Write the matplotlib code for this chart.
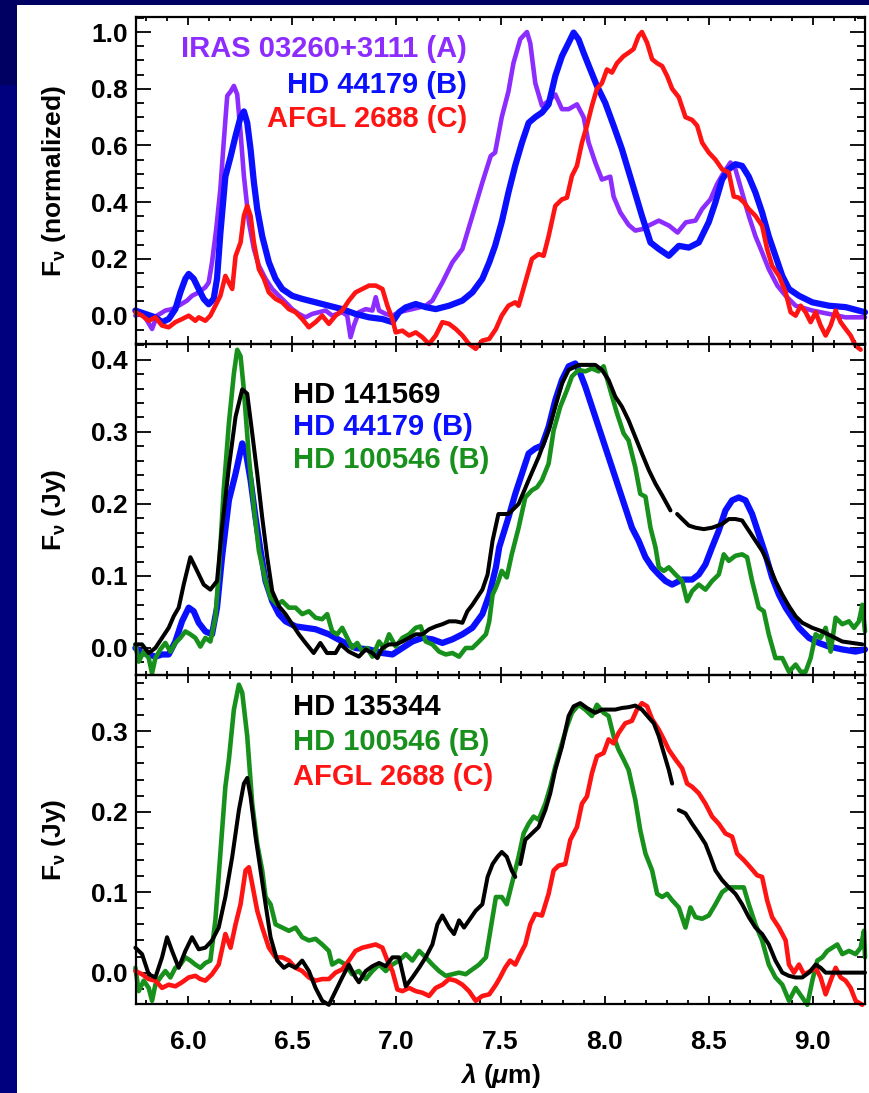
import numpy as np
import matplotlib
matplotlib.use("Agg")
import matplotlib.pyplot as plt
from matplotlib.patches import Rectangle
from matplotlib.ticker import MultipleLocator, FormatStrFormatter

plt.rcParams['font.family'] = ['Liberation Sans', 'DejaVu Sans']
plt.rcParams['font.weight'] = 'bold'
plt.rcParams['axes.labelweight'] = 'bold'
plt.rcParams['mathtext.fontset'] = 'custom'
plt.rcParams['mathtext.rm'] = 'Liberation Sans:bold'
plt.rcParams['mathtext.it'] = 'Liberation Sans:italic:bold'
plt.rcParams['mathtext.bf'] = 'Liberation Sans:bold'

# ---- spectra (wavelength in micron, flux) ----
# panel 1: normalized
iras_a = [(5.747, 0.0), (5.779, 0.012), (5.827, -0.047), (5.851, 0.0), (5.891, 0.018),
          (5.923, 0.023), (5.955, 0.035), (5.995, 0.053), (6.019, 0.07), (6.051, 0.082),
          (6.083, 0.10), (6.099, 0.117), (6.115, 0.188), (6.135, 0.305), (6.155, 0.446),
          (6.171, 0.61), (6.188, 0.775), (6.204, 0.79), (6.22, 0.81), (6.236, 0.78),
          (6.252, 0.645), (6.268, 0.493), (6.292, 0.329), (6.316, 0.235), (6.34, 0.176),
          (6.372, 0.13), (6.404, 0.094), (6.436, 0.07), (6.468, 0.047), (6.5, 0.023),
          (6.532, 0.006), (6.564, -0.006), (6.596, 0.006), (6.628, 0.012), (6.66, 0.018),
          (6.692, 0.0), (6.74, 0.012), (6.764, 0.0), (6.78, -0.076), (6.796, -0.035),
          (6.82, 0.012), (6.853, 0.023), (6.885, 0.018), (6.901, 0.065), (6.917, 0.018),
          (6.949, 0.006), (6.981, 0.0), (7.013, 0.012), (7.045, 0.018), (7.077, 0.023),
          (7.109, 0.029), (7.141, 0.035), (7.173, 0.053), (7.221, 0.117), (7.269, 0.188),
          (7.317, 0.235), (7.365, 0.352), (7.413, 0.47), (7.453, 0.563), (7.474, 0.575),
          (7.506, 0.70), (7.538, 0.79), (7.562, 0.89), (7.595, 0.975), (7.627, 1.0),
          (7.643, 0.96), (7.667, 0.82), (7.699, 0.74), (7.731, 0.757), (7.763, 0.78),
          (7.795, 0.728), (7.827, 0.728), (7.867, 0.745), (7.899, 0.70), (7.923, 0.61),
          (7.955, 0.54), (7.987, 0.48), (8.027, 0.49), (8.043, 0.42), (8.075, 0.364),
          (8.115, 0.32), (8.147, 0.30), (8.18, 0.305), (8.21, 0.317), (8.26, 0.335),
          (8.31, 0.317), (8.35, 0.293), (8.39, 0.329), (8.436, 0.335), (8.468, 0.376),
          (8.508, 0.41), (8.54, 0.464), (8.572, 0.505), (8.604, 0.54), (8.628, 0.516),
          (8.66, 0.434), (8.692, 0.352), (8.724, 0.28), (8.756, 0.223), (8.788, 0.164),
          (8.829, 0.106), (8.869, 0.07), (8.917, 0.035), (8.997, 0.018), (9.077, 0.006),
          (9.157, -0.006), (9.25, -0.006)]

hd44179_norm = [(5.747, 0.018), (5.795, 0.006), (5.843, -0.006), (5.875, -0.023), (5.907, -0.012),
                (5.939, 0.023), (5.963, 0.082), (5.987, 0.13), (6.003, 0.147), (6.027, 0.13),
                (6.051, 0.094), (6.075, 0.059), (6.099, 0.04), (6.123, 0.059), (6.139, 0.13),
                (6.155, 0.29), (6.179, 0.49), (6.204, 0.56), (6.228, 0.634), (6.252, 0.70),
                (6.268, 0.72), (6.284, 0.68), (6.30, 0.587), (6.316, 0.47), (6.332, 0.376),
                (6.356, 0.28), (6.388, 0.188), (6.42, 0.13), (6.452, 0.094), (6.5, 0.07),
                (6.548, 0.059), (6.612, 0.047), (6.676, 0.035), (6.74, 0.023), (6.804, 0.006),
                (6.869, -0.006), (6.933, -0.012), (6.981, -0.023), (7.013, 0.012), (7.045, 0.029),
                (7.093, 0.041), (7.141, 0.03), (7.189, 0.023), (7.253, 0.035), (7.317, 0.053),
                (7.365, 0.082), (7.413, 0.13), (7.446, 0.188), (7.474, 0.246), (7.506, 0.33),
                (7.538, 0.434), (7.571, 0.53), (7.603, 0.61), (7.635, 0.68), (7.667, 0.70),
                (7.699, 0.716), (7.731, 0.745), (7.763, 0.845), (7.795, 0.915), (7.827, 0.962),
                (7.851, 0.998), (7.875, 0.974), (7.899, 0.927), (7.931, 0.868), (7.963, 0.81),
                (8.003, 0.75), (8.043, 0.67), (8.083, 0.587), (8.131, 0.47), (8.179, 0.352),
                (8.22, 0.258), (8.26, 0.235), (8.308, 0.211), (8.356, 0.246), (8.404, 0.24),
                (8.452, 0.258), (8.5, 0.33), (8.532, 0.40), (8.564, 0.48), (8.596, 0.516),
                (8.628, 0.534), (8.66, 0.528), (8.692, 0.49), (8.724, 0.434), (8.756, 0.364),
                (8.788, 0.28), (8.82, 0.211), (8.853, 0.14), (8.885, 0.094), (8.933, 0.07),
                (8.997, 0.047), (9.077, 0.035), (9.157, 0.03), (9.25, 0.012)]

afgl2688_norm = [(5.747, 0.012), (5.779, 0.0), (5.811, -0.018), (5.843, -0.006), (5.875, -0.035),
                 (5.907, -0.041), (5.939, -0.023), (5.971, -0.012), (6.003, 0.0), (6.035, -0.018),
                 (6.051, -0.006), (6.083, -0.018), (6.107, 0.0), (6.131, 0.035), (6.155, 0.07),
                 (6.179, 0.14), (6.195, 0.117), (6.212, 0.094), (6.228, 0.21), (6.252, 0.258),
                 (6.268, 0.352), (6.284, 0.387), (6.30, 0.352), (6.316, 0.258), (6.34, 0.164),
                 (6.364, 0.13), (6.388, 0.082), (6.42, 0.059), (6.452, 0.047), (6.484, 0.023),
                 (6.516, 0.012), (6.548, -0.012), (6.58, -0.041), (6.612, -0.023), (6.644, 0.0),
                 (6.676, -0.029), (6.708, 0.0), (6.74, 0.018), (6.772, 0.053), (6.804, 0.082),
                 (6.837, 0.094), (6.869, 0.106), (6.901, 0.106), (6.933, 0.094), (6.957, 0.035),
                 (6.981, -0.012), (6.997, -0.059), (7.029, -0.053), (7.061, -0.07), (7.093, -0.059),
                 (7.125, -0.076), (7.157, -0.10), (7.189, -0.07), (7.221, -0.023), (7.253, -0.029),
                 (7.285, -0.047), (7.317, -0.07), (7.349, -0.10), (7.381, -0.117), (7.413, -0.088),
                 (7.446, -0.082), (7.478, -0.047), (7.506, 0.0), (7.538, 0.035), (7.571, 0.047),
                 (7.587, 0.035), (7.619, 0.117), (7.651, 0.20), (7.683, 0.217), (7.707, 0.211),
                 (7.731, 0.28), (7.763, 0.387), (7.795, 0.41), (7.819, 0.416), (7.843, 0.493),
                 (7.867, 0.528), (7.891, 0.61), (7.915, 0.67), (7.939, 0.74), (7.963, 0.80),
                 (7.987, 0.82), (8.011, 0.868), (8.035, 0.857), (8.059, 0.89), (8.091, 0.915),
                 (8.115, 0.927), (8.139, 0.94), (8.163, 0.986), (8.179, 1.0), (8.204, 0.962),
                 (8.228, 0.904), (8.252, 0.89), (8.276, 0.88), (8.30, 0.845), (8.324, 0.80),
                 (8.356, 0.77), (8.388, 0.70), (8.42, 0.69), (8.444, 0.67), (8.468, 0.61),
                 (8.50, 0.575), (8.532, 0.55), (8.564, 0.516), (8.596, 0.505), (8.62, 0.42),
                 (8.644, 0.416), (8.668, 0.40), (8.692, 0.376), (8.724, 0.352), (8.756, 0.317),
                 (8.78, 0.235), (8.804, 0.176), (8.837, 0.14), (8.869, 0.082), (8.893, 0.012),
                 (8.917, 0.0), (8.941, 0.035), (8.965, 0.012), (8.989, -0.023), (9.013, 0.012),
                 (9.037, -0.035), (9.061, -0.07), (9.085, -0.035), (9.109, 0.018), (9.133, -0.023),
                 (9.157, -0.047), (9.181, -0.07), (9.205, -0.106), (9.229, -0.12)]

# panel 2: Jy
hd141569 = [(5.747, 0.005), (5.779, 0.005), (5.811, -0.007), (5.843, 0.0), (5.875, 0.014),
            (5.907, 0.028), (5.931, 0.044), (5.955, 0.056), (5.979, 0.088), (6.011, 0.126),
            (6.035, 0.112), (6.075, 0.088), (6.107, 0.081), (6.139, 0.093), (6.163, 0.167),
            (6.196, 0.251), (6.228, 0.321), (6.26, 0.359), (6.284, 0.353), (6.308, 0.298),
            (6.332, 0.242), (6.356, 0.181), (6.38, 0.126), (6.404, 0.079), (6.436, 0.058),
            (6.468, 0.047), (6.5, 0.033), (6.532, 0.019), (6.564, 0.007), (6.603, -0.007),
            (6.635, 0.007), (6.667, -0.007), (6.708, -0.007), (6.732, 0.005), (6.772, -0.005),
            (6.82, -0.012), (6.853, -0.002), (6.885, -0.007), (6.909, -0.014), (6.933, 0.0),
            (6.965, 0.005), (6.997, 0.005), (7.029, 0.009), (7.061, 0.014), (7.093, 0.019),
            (7.125, 0.019), (7.157, 0.026), (7.189, 0.03), (7.221, 0.033), (7.253, 0.037),
            (7.285, 0.037), (7.317, 0.035), (7.341, 0.051), (7.365, 0.06), (7.397, 0.074),
            (7.413, 0.081), (7.438, 0.102), (7.462, 0.149), (7.49, 0.186), (7.538, 0.186),
            (7.587, 0.20), (7.635, 0.233), (7.683, 0.265), (7.731, 0.302), (7.763, 0.335),
            (7.795, 0.367), (7.827, 0.386), (7.875, 0.393), (7.923, 0.393), (7.955, 0.393),
            (7.987, 0.386), (8.019, 0.372), (8.051, 0.349), (8.083, 0.335), (8.115, 0.316),
            (8.147, 0.293), (8.179, 0.27), (8.212, 0.247), (8.244, 0.228), (8.276, 0.212),
            (8.316, 0.191), (8.33, np.nan), (8.348, 0.186), (8.372, 0.179), (8.404, 0.17),
            (8.436, 0.167), (8.476, 0.165), (8.516, 0.167), (8.564, 0.172), (8.596, 0.179),
            (8.628, 0.179), (8.66, 0.177), (8.692, 0.163), (8.724, 0.149), (8.756, 0.135),
            (8.788, 0.116), (8.82, 0.093), (8.853, 0.074), (8.885, 0.058), (8.917, 0.044),
            (8.949, 0.035), (8.997, 0.028), (9.045, 0.023), (9.093, 0.016), (9.141, 0.009),
            (9.189, 0.007), (9.237, 0.005)]

hd44179_jy = [(5.747, 0.0), (5.779, -0.007), (5.811, -0.009), (5.843, -0.012), (5.875, -0.009),
              (5.907, -0.009), (5.939, 0.009), (5.971, 0.037), (6.003, 0.056), (6.027, 0.051),
              (6.051, 0.035), (6.083, 0.023), (6.115, 0.019), (6.139, 0.056), (6.163, 0.126),
              (6.196, 0.205), (6.228, 0.242), (6.26, 0.284), (6.276, 0.274), (6.3, 0.233),
              (6.324, 0.181), (6.348, 0.135), (6.372, 0.093), (6.404, 0.065), (6.436, 0.047),
              (6.468, 0.037), (6.516, 0.03), (6.564, 0.028), (6.612, 0.026), (6.676, 0.019),
              (6.74, 0.009), (6.804, 0.0), (6.869, -0.002), (6.933, -0.007), (6.981, -0.009),
              (7.029, 0.0), (7.077, 0.009), (7.125, 0.014), (7.173, 0.012), (7.221, 0.007),
              (7.269, 0.012), (7.317, 0.019), (7.365, 0.028), (7.413, 0.047), (7.446, 0.074),
              (7.478, 0.112), (7.494, 0.14), (7.538, 0.181), (7.571, 0.214), (7.603, 0.242),
              (7.635, 0.27), (7.667, 0.277), (7.699, 0.281), (7.731, 0.307), (7.763, 0.344),
              (7.795, 0.372), (7.827, 0.391), (7.859, 0.395), (7.883, 0.381), (7.907, 0.363),
              (7.939, 0.335), (7.971, 0.307), (8.003, 0.279), (8.035, 0.251), (8.067, 0.223),
              (8.099, 0.195), (8.131, 0.167), (8.163, 0.149), (8.196, 0.126), (8.228, 0.112),
              (8.26, 0.102), (8.292, 0.093), (8.324, 0.088), (8.372, 0.095), (8.42, 0.095),
              (8.452, 0.102), (8.484, 0.116), (8.516, 0.14), (8.548, 0.163), (8.58, 0.191),
              (8.612, 0.205), (8.644, 0.209), (8.676, 0.205), (8.708, 0.186), (8.74, 0.158),
              (8.772, 0.13), (8.804, 0.098), (8.837, 0.074), (8.869, 0.056), (8.901, 0.042),
              (8.933, 0.028), (8.981, 0.014), (9.029, 0.007), (9.077, 0.002), (9.141, -0.002),
              (9.205, -0.005), (9.25, -0.002)]

hd100546_mid = [(5.747, 0.005), (5.763, -0.019), (5.787, -0.005), (5.811, -0.014), (5.827, -0.035),
                (5.843, -0.014), (5.867, -0.002), (5.891, 0.007), (5.915, -0.005), (5.939, 0.007),
                (5.963, 0.014), (5.987, 0.023), (6.011, 0.019), (6.035, 0.014), (6.059, 0.002),
                (6.083, 0.014), (6.107, 0.009), (6.131, 0.042), (6.147, 0.102), (6.171, 0.219),
                (6.196, 0.312), (6.22, 0.381), (6.236, 0.414), (6.252, 0.405), (6.268, 0.358),
                (6.292, 0.265), (6.316, 0.195), (6.34, 0.135), (6.372, 0.093), (6.396, 0.07),
                (6.428, 0.06), (6.452, 0.065), (6.484, 0.056), (6.516, 0.056), (6.548, 0.047),
                (6.58, 0.051), (6.612, 0.042), (6.644, 0.040), (6.668, 0.047), (6.692, 0.023),
                (6.716, 0.019), (6.74, 0.028), (6.764, 0.014), (6.788, 0.0), (6.812, 0.007),
                (6.837, -0.005), (6.86, 0.0), (6.885, -0.012), (6.917, 0.009), (6.941, 0.0),
                (6.965, 0.019), (6.997, 0.002), (7.029, 0.014), (7.061, 0.019), (7.093, 0.028),
                (7.117, 0.030), (7.141, 0.009), (7.173, 0.005), (7.205, -0.005), (7.237, -0.009),
                (7.269, -0.007), (7.301, -0.012), (7.333, 0.0), (7.365, 0.0), (7.397, 0.009),
                (7.43, 0.019), (7.446, 0.037), (7.462, 0.074), (7.478, 0.084), (7.49, 0.093),
                (7.506, 0.107), (7.53, 0.098), (7.554, 0.13), (7.587, 0.167), (7.619, 0.209),
                (7.651, 0.219), (7.675, 0.223), (7.699, 0.233), (7.731, 0.256), (7.755, 0.302),
                (7.787, 0.335), (7.819, 0.358), (7.843, 0.377), (7.875, 0.386), (7.907, 0.384),
                (7.939, 0.388), (7.971, 0.384), (7.995, 0.391), (8.027, 0.358), (8.059, 0.326),
                (8.091, 0.298), (8.115, 0.288), (8.147, 0.251), (8.171, 0.214), (8.196, 0.21),
                (8.22, 0.167), (8.244, 0.14), (8.26, 0.112), (8.284, 0.107), (8.308, 0.112),
                (8.34, 0.102), (8.372, 0.093), (8.396, 0.065), (8.42, 0.079), (8.452, 0.088),
                (8.484, 0.081), (8.516, 0.093), (8.548, 0.102), (8.572, 0.13), (8.596, 0.121),
                (8.628, 0.128), (8.66, 0.13), (8.684, 0.126), (8.708, 0.093), (8.74, 0.056),
                (8.764, 0.051), (8.788, 0.019), (8.82, -0.014), (8.853, -0.014), (8.885, -0.033),
                (8.917, -0.023), (8.941, -0.033), (8.965, -0.033), (8.989, -0.014), (9.013, 0.019),
                (9.037, 0.014), (9.061, 0.028), (9.085, -0.005), (9.109, 0.042), (9.141, 0.033),
                (9.173, 0.037), (9.197, 0.028), (9.221, 0.037), (9.237, 0.06), (9.25, 0.023)]

# panel 3: Jy
hd135344 = [(5.747, 0.031), (5.779, 0.023), (5.811, -0.002), (5.843, -0.006), (5.875, 0.019),
            (5.899, 0.044), (5.923, 0.027), (5.955, 0.006), (5.987, 0.027), (6.019, 0.044),
            (6.051, 0.029), (6.083, 0.031), (6.115, 0.040), (6.147, 0.056), (6.179, 0.094),
            (6.212, 0.144), (6.244, 0.202), (6.268, 0.235), (6.284, 0.242), (6.3, 0.219),
            (6.324, 0.169), (6.348, 0.127), (6.372, 0.085), (6.396, 0.044), (6.428, 0.015),
            (6.46, 0.006), (6.484, 0.010), (6.516, 0.006), (6.548, 0.015), (6.58, 0.002),
            (6.612, -0.019), (6.644, -0.035), (6.676, -0.040), (6.708, -0.023), (6.74, -0.006),
            (6.772, 0.010), (6.804, -0.006), (6.82, -0.012), (6.853, 0.002), (6.885, 0.008),
            (6.917, 0.012), (6.949, 0.008), (6.981, 0.019), (7.013, 0.019), (7.045, -0.017),
            (7.077, -0.006), (7.109, 0.006), (7.141, 0.019), (7.173, 0.035), (7.197, 0.06),
            (7.221, 0.071), (7.253, 0.056), (7.277, 0.048), (7.301, 0.065), (7.325, 0.056),
            (7.349, 0.065), (7.381, 0.077), (7.413, 0.085), (7.438, 0.119), (7.462, 0.135),
            (7.486, 0.144), (7.506, 0.15), (7.53, 0.144), (7.554, 0.127), (7.571, 0.119),
            (7.583, np.nan), (7.595, 0.135), (7.619, 0.165), (7.651, 0.173), (7.683, 0.181),
            (7.715, 0.202), (7.739, 0.223), (7.763, 0.252), (7.795, 0.281), (7.827, 0.319),
            (7.851, 0.331), (7.883, 0.335), (7.915, 0.329), (7.955, 0.323), (7.987, 0.327),
            (8.019, 0.327), (8.051, 0.327), (8.083, 0.329), (8.115, 0.330), (8.147, 0.332),
            (8.179, 0.327), (8.212, 0.317), (8.236, 0.31), (8.26, 0.294), (8.284, 0.273),
            (8.308, 0.252), (8.324, 0.235), (8.34, np.nan), (8.356, 0.202), (8.388, 0.198),
            (8.42, 0.185), (8.452, 0.173), (8.484, 0.16), (8.508, 0.144), (8.532, 0.127),
            (8.564, 0.115), (8.596, 0.106), (8.628, 0.098), (8.66, 0.085), (8.692, 0.069),
            (8.724, 0.056), (8.756, 0.048), (8.788, 0.035), (8.82, 0.015), (8.853, 0.0),
            (8.885, -0.004), (8.917, -0.006), (8.949, -0.006), (8.981, 0.0), (9.013, 0.010),
            (9.037, 0.006), (9.061, 0.0), (9.109, 0.0), (9.173, 0.0), (9.25, 0.0)]

hd100546_bot = [(5.747, 0.006), (5.763, -0.023), (5.787, -0.010), (5.811, -0.019), (5.827, -0.035),
                (5.843, -0.015), (5.867, -0.006), (5.891, 0.002), (5.915, -0.006), (5.939, 0.006),
                (5.963, 0.010), (5.987, 0.019), (6.011, 0.015), (6.035, 0.010), (6.059, 0.006),
                (6.083, 0.012), (6.107, 0.015), (6.131, 0.065), (6.155, 0.148), (6.179, 0.231),
                (6.196, 0.265), (6.22, 0.327), (6.244, 0.358), (6.26, 0.348), (6.284, 0.294),
                (6.308, 0.21), (6.332, 0.16), (6.356, 0.127), (6.372, 0.094), (6.396, 0.085),
                (6.42, 0.06), (6.452, 0.056), (6.484, 0.052), (6.516, 0.056), (6.548, 0.044),
                (6.58, 0.040), (6.612, 0.042), (6.644, 0.035), (6.676, 0.027), (6.692, 0.010),
                (6.724, 0.015), (6.756, 0.010), (6.788, -0.002), (6.82, 0.002), (6.853, -0.008),
                (6.885, 0.002), (6.917, 0.010), (6.949, 0.002), (6.981, 0.010), (7.013, 0.015),
                (7.045, 0.023), (7.077, 0.015), (7.109, 0.027), (7.141, 0.019), (7.173, 0.010),
                (7.205, 0.002), (7.237, -0.004), (7.269, -0.002), (7.301, 0.0), (7.333, -0.002),
                (7.365, 0.004), (7.397, 0.010), (7.43, 0.019), (7.446, 0.044), (7.462, 0.069),
                (7.478, 0.094), (7.506, 0.094), (7.53, 0.085), (7.554, 0.11), (7.587, 0.144),
                (7.611, 0.173), (7.635, 0.185), (7.659, 0.194), (7.683, 0.19), (7.715, 0.21),
                (7.739, 0.231), (7.763, 0.256), (7.795, 0.285), (7.819, 0.306), (7.843, 0.323),
                (7.875, 0.333), (7.907, 0.327), (7.939, 0.319), (7.963, 0.333), (7.995, 0.323),
                (8.019, 0.319), (8.043, 0.294), (8.067, 0.277), (8.091, 0.265), (8.115, 0.252),
                (8.147, 0.215), (8.171, 0.177), (8.196, 0.148), (8.228, 0.127), (8.252, 0.098),
                (8.276, 0.094), (8.30, 0.098), (8.324, 0.09), (8.356, 0.081), (8.388, 0.056),
                (8.412, 0.081), (8.436, 0.069), (8.468, 0.067), (8.5, 0.071), (8.532, 0.085),
                (8.564, 0.10), (8.596, 0.106), (8.628, 0.106), (8.668, 0.106), (8.692, 0.085),
                (8.724, 0.06), (8.756, 0.04), (8.788, 0.01), (8.82, -0.006), (8.853, -0.015),
                (8.885, -0.035), (8.917, -0.019), (8.949, -0.031), (8.973, -0.040), (8.997, -0.010),
                (9.021, 0.015), (9.045, 0.019), (9.069, 0.027), (9.093, 0.031), (9.117, 0.035),
                (9.141, 0.023), (9.173, 0.027), (9.205, 0.023), (9.229, 0.031), (9.245, 0.052),
                (9.25, 0.019)]

afgl2688_jy = [(5.747, 0.002), (5.779, -0.002), (5.811, -0.008), (5.843, -0.010), (5.875, -0.019),
               (5.907, -0.015), (5.939, -0.017), (5.971, -0.012), (6.003, -0.006), (6.035, -0.004),
               (6.059, -0.008), (6.083, -0.010), (6.115, -0.002), (6.147, 0.010), (6.179, 0.048),
               (6.204, 0.031), (6.228, 0.06), (6.252, 0.085), (6.276, 0.127), (6.292, 0.131),
               (6.308, 0.11), (6.332, 0.077), (6.356, 0.056), (6.388, 0.031), (6.42, 0.019),
               (6.452, 0.019), (6.484, 0.015), (6.516, 0.006), (6.548, 0.002), (6.58, -0.006),
               (6.612, -0.010), (6.644, -0.008), (6.676, -0.008), (6.708, 0.0), (6.74, 0.004),
               (6.772, 0.015), (6.804, 0.027), (6.837, 0.031), (6.869, 0.033), (6.901, 0.035),
               (6.933, 0.031), (6.957, 0.015), (6.981, 0.002), (7.005, -0.021), (7.029, -0.023),
               (7.061, -0.019), (7.093, -0.023), (7.125, -0.025), (7.157, -0.029), (7.189, -0.019),
               (7.221, -0.015), (7.253, -0.008), (7.285, -0.010), (7.317, -0.015), (7.349, -0.023),
               (7.381, -0.035), (7.413, -0.029), (7.446, -0.027), (7.478, -0.015), (7.498, -0.006),
               (7.522, 0.006), (7.546, 0.015), (7.571, 0.010), (7.595, 0.023), (7.619, 0.035),
               (7.643, 0.06), (7.667, 0.073), (7.699, 0.071), (7.731, 0.098), (7.755, 0.127),
               (7.779, 0.133), (7.811, 0.135), (7.835, 0.165), (7.867, 0.181), (7.891, 0.21),
               (7.915, 0.219), (7.939, 0.248), (7.963, 0.269), (7.995, 0.273), (8.019, 0.29),
               (8.043, 0.285), (8.067, 0.298), (8.099, 0.31), (8.131, 0.313), (8.155, 0.327),
               (8.179, 0.335), (8.204, 0.331), (8.228, 0.315), (8.26, 0.302), (8.284, 0.29),
               (8.308, 0.277), (8.34, 0.265), (8.372, 0.254), (8.396, 0.235), (8.42, 0.231),
               (8.452, 0.223), (8.484, 0.21), (8.516, 0.194), (8.548, 0.185), (8.58, 0.173),
               (8.612, 0.169), (8.636, 0.148), (8.668, 0.14), (8.699, 0.131), (8.732, 0.121),
               (8.756, 0.119), (8.78, 0.09), (8.804, 0.069), (8.837, 0.056), (8.869, 0.04),
               (8.885, 0.01), (8.909, 0.0), (8.933, 0.01), (8.957, -0.002), (8.989, 0.002),
               (9.013, 0.006), (9.037, -0.006), (9.061, -0.027), (9.085, -0.010), (9.109, 0.006),
               (9.133, -0.006), (9.157, -0.010), (9.181, -0.019), (9.205, -0.035), (9.237, -0.040)]

PURPLE = '#8d2cff'
BLUE = '#0a10ff'
RED = '#ff1414'
GREEN = '#17911c'
BLACK = '#000000'

fig = plt.figure(figsize=(8.69, 10.93), dpi=100)
fig.patch.set_facecolor('#00007f')
# white slide area, darker strip on top
fig.patches.append(Rectangle((0, 1008 / 1093), 17 / 869, 85 / 1093, transform=fig.transFigure,
                             facecolor='#000062', edgecolor='none', zorder=-2))
fig.patches.append(Rectangle((0, 1088 / 1093), 1, 5 / 1093, transform=fig.transFigure,
                             facecolor='#000062', edgecolor='none', zorder=-2))
fig.patches.append(Rectangle((17 / 869, 0), 852 / 869, 1088 / 1093, transform=fig.transFigure,
                             facecolor='white', edgecolor='none', zorder=-2))

left, width = 136 / 869, 729 / 869
ax1 = fig.add_axes([left, 749 / 1093, width, 327 / 1093])
ax2 = fig.add_axes([left, 418 / 1093, width, 331 / 1093])
ax3 = fig.add_axes([left, 89 / 1093, width, 329 / 1093])


def draw(ax, spec, color, lw):
    xy = np.array(spec, dtype=float)
    ax.plot(xy[:, 0], xy[:, 1], color=color, lw=lw, clip_on=False,
            solid_joinstyle='round', solid_capstyle='round')


def style(ax, ylim, major, minor):
    ax.set_facecolor('none')
    ax.set_xlim(5.75, 9.25)
    ax.set_ylim(*ylim)
    ax.xaxis.set_major_locator(MultipleLocator(0.5))
    ax.xaxis.set_minor_locator(MultipleLocator(0.1))
    ax.yaxis.set_major_locator(MultipleLocator(major))
    ax.yaxis.set_minor_locator(MultipleLocator(minor))
    ax.xaxis.set_major_formatter(FormatStrFormatter('%.1f'))
    ax.yaxis.set_major_formatter(FormatStrFormatter('%.1f'))
    ax.tick_params(which='both', direction='in', top=True, right=True, width=1.3,
                   labelsize=19, colors='black')
    ax.tick_params(axis='y', which='major', length=11, pad=6)
    ax.tick_params(axis='y', which='minor', length=5.5)
    ax.tick_params(axis='x', which='major', length=5.5, pad=19)
    ax.tick_params(axis='x', which='minor', length=3)
    for sp in ax.spines.values():
        sp.set_linewidth(1.6)
        sp.set_zorder(5)


# top panel
draw(ax1, iras_a, PURPLE, 3.3)
draw(ax1, hd44179_norm, BLUE, 4.5)
draw(ax1, afgl2688_norm, RED, 3.3)
ax1.set_ylabel(r'F$_{\mathrm{\nu}}$ (normalized)', fontsize=19, fontweight='bold')
style(ax1, (-0.1, 1.053), 0.2, 0.05)
ax1.tick_params(labelbottom=False)
ax1.text(0.454, 0.879, 'IRAS 03260+3111 (A)', color=PURPLE, ha='right', va='baseline',
         fontsize=21, fontweight='bold', transform=ax1.transAxes)
ax1.text(0.454, 0.767, 'HD 44179 (B)', color=BLUE, ha='right', va='baseline',
         fontsize=21, fontweight='bold', transform=ax1.transAxes)
ax1.text(0.454, 0.665, 'AFGL 2688 (C)', color=RED, ha='right', va='baseline',
         fontsize=21, fontweight='bold', transform=ax1.transAxes)

# middle panel
draw(ax2, hd44179_jy, BLUE, 4.5)
draw(ax2, hd100546_mid, GREEN, 3.3)
draw(ax2, hd141569, BLACK, 2.9)
ax2.set_ylabel(r'F$_{\mathrm{\nu}}$ (Jy)', fontsize=19, fontweight='bold')
style(ax2, (-0.0375, 0.422), 0.1, 0.02)
ax2.tick_params(labelbottom=False)
for txt, c, yy in [('HD 141569', BLACK, 0.821), ('HD 44179 (B)', BLUE, 0.725),
                   ('HD 100546 (B)', GREEN, 0.6245)]:
    ax2.text(0.215, yy, txt, color=c, ha='left', va='baseline', fontsize=21,
             fontweight='bold', transform=ax2.transAxes)

# bottom panel
draw(ax3, hd100546_bot, GREEN, 3.3)
draw(ax3, afgl2688_jy, RED, 3.3)
draw(ax3, hd135344, BLACK, 2.9)
ax3.set_ylabel(r'F$_{\mathrm{\nu}}$ (Jy)', fontsize=19, fontweight='bold')
style(ax3, (-0.039, 0.37), 0.1, 0.02)
ax3.set_xlabel(r'$\lambda$ ($\mu$m)', fontsize=19, fontweight='bold', labelpad=5)
for txt, c, yy in [('HD 135344', BLACK, 0.878), ('HD 100546 (B)', GREEN, 0.772),
                   ('AFGL 2688 (C)', RED, 0.666)]:
    ax3.text(0.215, yy, txt, color=c, ha='left', va='baseline', fontsize=21,
             fontweight='bold', transform=ax3.transAxes)

for ax in (ax1, ax2, ax3):
    ax.yaxis.set_label_coords(-0.093, 0.5)

fig.savefig('out.png', dpi=100, facecolor=fig.get_facecolor())
plt.close(fig)
